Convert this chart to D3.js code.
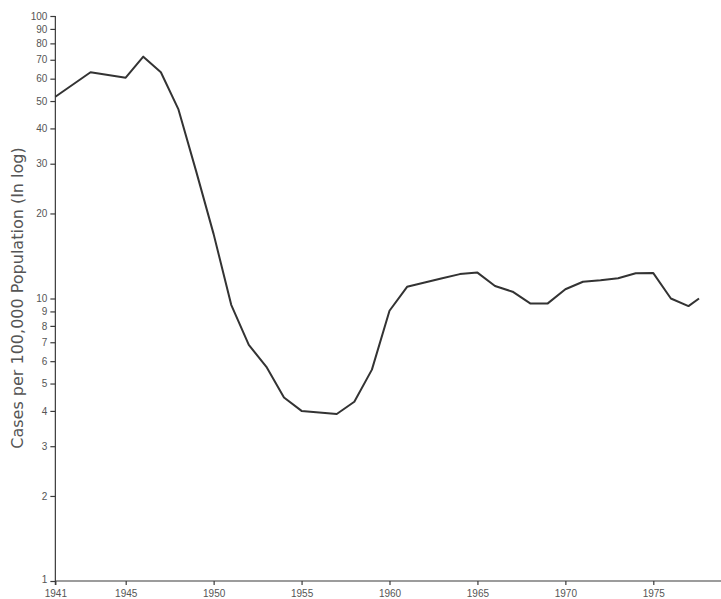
<!DOCTYPE html>
<html>
<head>
<meta charset="utf-8">
<script src="https://cdn.jsdelivr.net/npm/d3@7"></script>
<style>
  html, body { margin: 0; padding: 0; background: #fff; }
  svg { display: block; }
</style>
</head>
<body>
<script>
// ---- data ----
const years = [1941, 1943, 1944, 1945, 1946, 1947, 1948, 1949, 1950, 1951, 1952, 1953, 1954, 1955, 1956, 1957, 1958, 1959, 1960, 1961, 1962, 1963, 1964, 1965, 1966, 1967, 1968, 1969, 1970, 1971, 1972, 1973, 1974, 1975, 1976, 1977, 1977.6];
const rates = [51.8, 63.2, 61.8, 60.5, 71.8, 63.2, 46.7, 28.3, 16.9, 9.5, 6.85, 5.73, 4.46, 4.0, 3.95, 3.9, 4.31, 5.6, 9.05, 11.0, 11.4, 11.8, 12.2, 12.35, 11.07, 10.57, 9.61, 9.61, 10.78, 11.46, 11.6, 11.8, 12.28, 12.3, 10.0, 9.4, 10.0];
const yTicks = [1, 2, 3, 4, 5, 6, 7, 8, 9, 10, 20, 30, 40, 50, 60, 70, 80, 90, 100];
const xTicks = [1941, 1945, 1950, 1955, 1960, 1965, 1970, 1975];
const yLabel = "Cases per 100,000 Population (In log)";

const W = 721, H = 599;
const svg = d3.select("body").append("svg").attr("width", W).attr("height", H);

const x = d3.scaleLinear().domain([1945, 1975]).range([125.7, 653.3]);
const y = d3.scaleLog().domain([1, 100]).range([581, 16]);

const axisColor = "#3a3a3a";
const textColor = "#555";

// y axis
const yAxis = svg.append("g").attr("transform", `translate(${x(1941)},0)`)
  .call(d3.axisLeft(y).tickValues(yTicks).tickFormat(d3.format("d")).tickSize(5).tickPadding(3));
yAxis.select(".domain").attr("d", `M0,${y(100)}V${y(1) + 4}`);
// x axis
const xAxis = svg.append("g").attr("transform", `translate(0,${y(1)})`)
  .call(d3.axisBottom(x).tickValues(xTicks).tickFormat(d3.format("d")).tickSize(4).tickPadding(5));
xAxis.select(".domain").attr("d", `M${x(1941)},0H${W}`);

[yAxis, xAxis].forEach(g => {
  g.selectAll(".domain").attr("stroke", axisColor).attr("stroke-width", 1.2);
  g.selectAll(".tick line").attr("stroke", axisColor).attr("stroke-width", 1.2);
  g.selectAll(".tick text").attr("fill", textColor)
    .attr("font-family", "'Liberation Sans', Arial, sans-serif").attr("font-size", 10);
});
yAxis.selectAll(".tick text").filter(d => d === 1).attr("dy", "0.1em");

// y label
svg.append("text")
  .attr("transform", `translate(23,${298}) rotate(-90)`)
  .attr("text-anchor", "middle")
  .attr("fill", textColor)
  .attr("font-family", "'DejaVu Sans', Verdana, sans-serif")
  .attr("font-size", 16)
  .text(yLabel);

// line
const data = years.map((yr, i) => ({ yr, v: rates[i] }));
svg.append("path")
  .datum(data)
  .attr("fill", "none")
  .attr("stroke", "#333")
  .attr("stroke-width", 2)
  .attr("stroke-linejoin", "round")
  .attr("d", d3.line().x(d => x(d.yr)).y(d => y(d.v)));
</script>
</body>
</html>
